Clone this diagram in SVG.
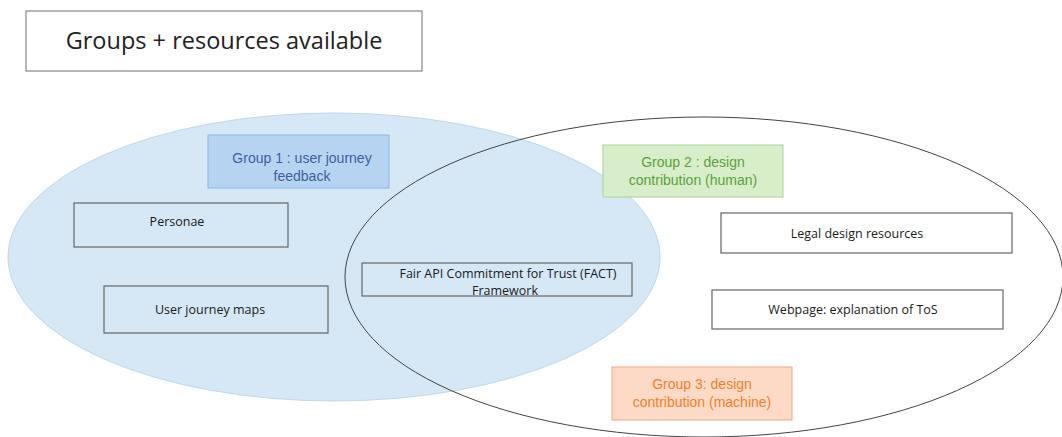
<svg xmlns="http://www.w3.org/2000/svg" width="1062" height="437" viewBox="0 0 1062 437">
<style>
.box{fill:none;stroke:#666;stroke-width:1.2}
.hand{font-family:"Open Sans","Liberation Sans",sans-serif;font-size:12.5px;fill:#1a1a1a;text-anchor:middle}
.grp{font-family:"Liberation Sans",Arial,sans-serif;font-size:14px;text-anchor:middle}
</style>
<rect width="1062" height="437" fill="#ffffff"/>
<g id="title">
<rect x="26" y="11" width="396" height="60" fill="#fff" stroke="#888" stroke-width="1.2"/>
<text x="224" y="49" style="font-family:'Open Sans','Liberation Sans',sans-serif;font-size:23.5px;fill:#222;text-anchor:middle">Groups + resources available</text>
</g>
<g id="set1">
<ellipse cx="334" cy="257" rx="326" ry="144" fill="#d6e8f6" stroke="#bcd8ee" stroke-width="1"/>
</g>
<g id="set2">
<ellipse cx="704" cy="277" rx="359" ry="160" fill="none" stroke="#444" stroke-width="1"/>
</g>
<g id="group1">
<rect x="208" y="135" width="181" height="53" fill="#b6d4f1" stroke="#86b6e4" stroke-width="1"/>
<text class="grp" fill="#3e5ea0" x="302" y="163">Group 1 : user journey</text>
<text class="grp" fill="#3e5ea0" x="302" y="181">feedback</text>
</g>
<g id="group2">
<rect x="603" y="145" width="180" height="52" fill="#d8edca" stroke="#acd490" stroke-width="1"/>
<text class="grp" fill="#5ba23c" x="693" y="167">Group 2 : design</text>
<text class="grp" fill="#5ba23c" x="693" y="185">contribution (human)</text>
</g>
<g id="group3">
<rect x="612" y="367" width="180" height="53" fill="#fcdac6" stroke="#f5a67c" stroke-width="1"/>
<text class="grp" fill="#ef812c" x="702" y="389">Group 3: design</text>
<text class="grp" fill="#ef812c" x="702" y="407">contribution (machine)</text>
</g>
<g id="personae">
<rect class="box" x="74" y="203" width="214" height="44"/>
<text class="hand" x="177" y="226">Personae</text>
</g>
<g id="journey">
<rect class="box" x="104" y="286" width="224" height="47"/>
<text class="hand" x="210" y="314">User journey maps</text>
</g>
<g id="fact">
<rect class="box" x="362" y="263" width="270" height="33"/>
<text class="hand" x="508" y="278">Fair API Commitment for Trust (FACT)</text>
<text class="hand" x="505" y="295">Framework</text>
</g>
<g id="legal">
<rect x="721" y="213" width="291" height="40" fill="#fff" stroke="#666" stroke-width="1.2"/>
<text class="hand" x="857" y="238">Legal design resources</text>
</g>
<g id="webpage">
<rect x="712" y="290" width="291" height="39" fill="#fff" stroke="#666" stroke-width="1.2"/>
<text class="hand" x="853" y="314">Webpage: explanation of ToS</text>
</g>
<g id="connectors"></g>
</svg>
